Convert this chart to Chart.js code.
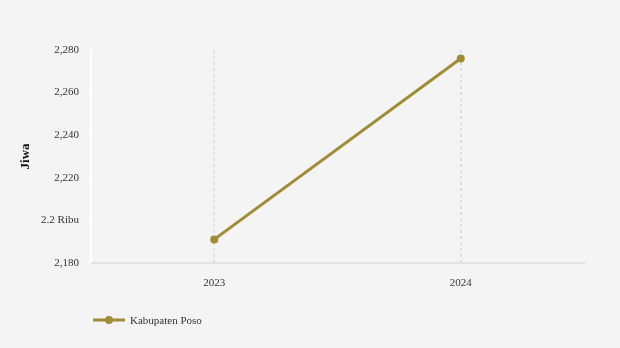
<!DOCTYPE html>
<html>
<head>
<meta charset="utf-8">
<script src="https://cdn.jsdelivr.net/npm/chart.js@4/dist/chart.umd.min.js"></script>
<style>
  html, body { margin: 0; padding: 0; background: #f4f4f4; }
  #wrap { width: 620px; height: 348px; position: relative; }
</style>
</head>
<body>
<div id="wrap"><canvas id="c" width="620" height="348"></canvas></div>
<script>
const categories = ["2023", "2024"];
const seriesName = "Kabupaten Poso";
const seriesValues = [2191, 2276];
const yTickValues = [2180, 2200, 2220, 2240, 2260, 2280];
const yTickLabels = ["2,180", "2.2 Ribu", "2,220", "2,240", "2,260", "2,280"];
const yTitle = "Jiwa";

const lineColor = "#a08c34";
const textColor = "#333333";
const fontFamily = "'Liberation Serif', 'Times New Roman', serif";

const legendPlugin = {
  id: "customLegend",
  afterDraw(chart) {
    const ctx = chart.ctx;
    const y = 320;
    const x0 = 93;
    ctx.save();
    ctx.strokeStyle = lineColor;
    ctx.lineWidth = 3;
    ctx.beginPath();
    ctx.moveTo(x0, y);
    ctx.lineTo(x0 + 32, y);
    ctx.stroke();
    ctx.fillStyle = lineColor;
    ctx.beginPath();
    ctx.arc(x0 + 16, y, 4, 0, Math.PI * 2);
    ctx.fill();
    ctx.fillStyle = textColor;
    ctx.font = "11px " + fontFamily;
    ctx.textBaseline = "middle";
    ctx.textAlign = "left";
    ctx.fillText(seriesName, x0 + 37, y + 1);
    ctx.restore();
  }
};

new Chart(document.getElementById("c"), {
  type: "line",
  data: {
    labels: categories,
    datasets: [{
      label: seriesName,
      data: seriesValues,
      borderColor: lineColor,
      backgroundColor: lineColor,
      borderWidth: 3,
      pointRadius: 4,
      pointHoverRadius: 4,
      pointBorderWidth: 0,
      pointBackgroundColor: lineColor,
      pointBorderColor: lineColor,
      tension: 0
    }]
  },
  options: {
    responsive: false,
    animation: false,
    devicePixelRatio: 1,
    layout: { padding: { top: 50, right: 36, bottom: 44, left: 0 } },
    plugins: {
      legend: { display: false },
      tooltip: { enabled: false }
    },
    scales: {
      x: {
        offset: true,
        grid: {
          offset: false,
          display: true,
          drawOnChartArea: true,
          drawTicks: false,
          color: "#e0e0e0",
          lineWidth: 2
        },
        border: { display: true, color: "#e2e2e2", width: 2, dash: [3, 3] },
        ticks: {
          color: textColor,
          font: { family: fontFamily, size: 11 },
          padding: 14
        }
      },
      y: {
        min: 2180,
        max: 2280,
        afterBuildTicks(scale) {
          scale.ticks = yTickValues.map(v => ({ value: v }));
        },
        afterFit(scale) { scale.width = 91; },
        grid: {
          drawOnChartArea: false,
          drawTicks: true,
          tickLength: 5,
          color: "#ffffff"
        },
        border: { display: true, color: "#ffffff", width: 2 },
        ticks: {
          color: textColor,
          font: { family: fontFamily, size: 11 },
          padding: 7,
          callback(value) {
            const i = yTickValues.indexOf(value);
            return i >= 0 ? yTickLabels[i] : "";
          }
        },
        title: {
          display: true,
          text: yTitle,
          color: "#111111",
          font: { family: fontFamily, size: 13, weight: "bold" },
          padding: { top: 18, bottom: 0 }
        }
      }
    }
  },
  plugins: [legendPlugin]
});
</script>
</body>
</html>
